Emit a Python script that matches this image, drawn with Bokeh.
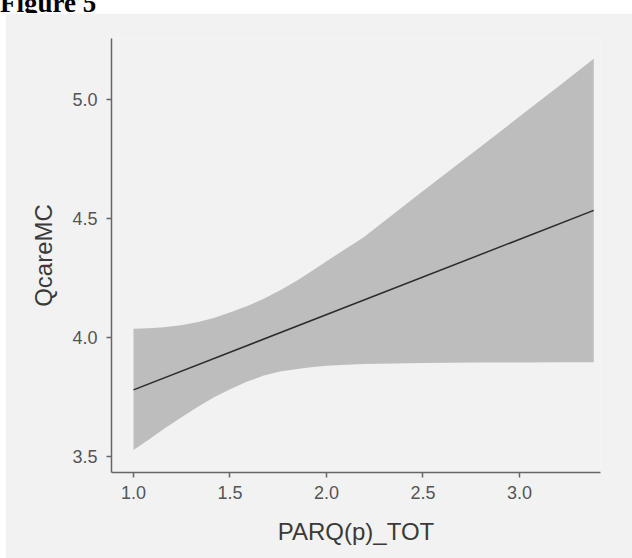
from bokeh.plotting import figure
from bokeh.models import Range1d, FixedTicker, Div, ColumnDataSource
from bokeh.layouts import column
from bokeh.embed import file_html
from bokeh.resources import INLINE

# ---- data ----
band_x = [1.0, 1.08, 1.157, 1.245, 1.33, 1.415, 1.503, 1.59, 1.675, 1.76, 1.848, 1.93, 2.02, 2.193, 2.5, 2.78, 3.0, 3.2, 3.385]
band_upper = [4.037, 4.039, 4.043, 4.051, 4.064, 4.082, 4.106, 4.132, 4.163, 4.199, 4.240, 4.283, 4.331, 4.421, 4.615, 4.790, 4.928, 5.053, 5.171]
band_lower = [3.528, 3.572, 3.616, 3.663, 3.707, 3.748, 3.784, 3.815, 3.840, 3.857, 3.868, 3.876, 3.882, 3.889, 3.893, 3.895, 3.895, 3.896, 3.896]
line_x = [1.0, 3.385]
line_y = [3.780, 4.534]
x_ticks = [1.0, 1.5, 2.0, 2.5, 3.0]
x_tick_labels = ["1.0", "1.5", "2.0", "2.5", "3.0"]
y_ticks = [3.5, 4.0, 4.5, 5.0]
y_tick_labels = ["3.5", "4.0", "4.5", "5.0"]
x_title = "PARQ(p)_TOT"
y_title = "QcareMC"
fig_title = "Figure 5"

PANEL = "#f2f2f2"
FONT = "Liberation Sans"

p = figure(width=627, height=545, output_backend="svg", toolbar_location=None,
           x_range=Range1d(0.886, 3.42), y_range=Range1d(3.433, 5.256),
           min_border_left=106, min_border_right=32, min_border_top=25, min_border_bottom=86,
           background_fill_color=PANEL, border_fill_color=PANEL, outline_line_color=None)
p.margin = (0, 0, 0, 5)

band = ColumnDataSource(dict(x=band_x, lo=band_lower, hi=band_upper))
p.varea(x="x", y1="lo", y2="hi", source=band, fill_color="#bdbdbd", fill_alpha=1.0)
p.line(line_x, line_y, line_color="#2b2b2b", line_width=1.5)

p.xgrid.visible = False
p.ygrid.visible = False

for ax, ticks, labels in ((p.xaxis[0], x_ticks, x_tick_labels), (p.yaxis[0], y_ticks, y_tick_labels)):
    ax.ticker = FixedTicker(ticks=ticks)
    ax.major_label_overrides = {t: l for t, l in zip(ticks, labels)}
    ax.minor_tick_line_color = None
    ax.major_tick_in = 0
    ax.major_tick_out = 5
    ax.major_tick_line_color = "#666666"
    ax.major_tick_line_width = 1.5
    ax.axis_line_color = "#666666"
    ax.axis_line_width = 1.5
    ax.major_label_text_font = FONT
    ax.major_label_text_font_size = "18px"
    ax.major_label_text_color = "#555555"
    ax.axis_label_text_font = FONT
    ax.axis_label_text_font_size = "24px"
    ax.axis_label_text_font_style = "normal"
    ax.axis_label_text_color = "#3a3a3a"

p.xaxis.axis_label = x_title
p.yaxis.axis_label = y_title
p.xaxis.major_label_standoff = 8
p.yaxis.major_label_standoff = 9
p.xaxis.axis_label_standoff = 16
p.yaxis.axis_label_standoff = 12

title_div = Div(text='<div style="font: bold 27px \'Liberation Serif\'; line-height: 27px; margin-top: -15px; color: #000;">' + fig_title + '</div>',
                width=632, height=13, styles={"overflow": "hidden", "margin": "0", "padding": "0"})

layout = column(title_div, p, spacing=0)
layout.styles = {"background-color": "#ffffff"}

open("out.html", "w").write(file_html(layout, INLINE))
